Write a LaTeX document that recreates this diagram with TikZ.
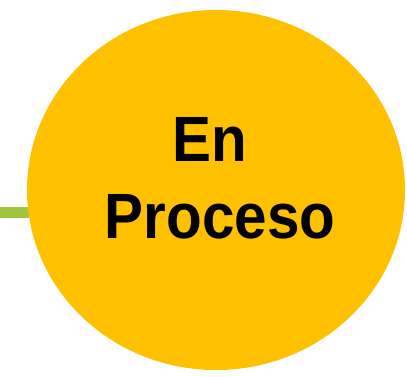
\documentclass[tikz,border=0pt]{standalone}
\usepackage{fontspec}
\setmainfont{Liberation Sans}
\usetikzlibrary{shapes.geometric}
\definecolor{procorange}{RGB}{255,192,0}
\definecolor{linkgreen}{RGB}{160,198,62}
\begin{document}
\begin{tikzpicture}[x=1pt,y=1pt,
  statebubble/.style={ellipse, fill=procorange, draw=none, minimum width=378pt, minimum height=360pt, inner sep=0pt},
  statelabel/.style={align=center, font=\fontsize{64}{77}\selectfont\bfseries, text=black, inner sep=0pt, xscale=0.913},
  link/.style={draw=linkgreen, line width=11pt}]
\useasboundingbox (0,0) rectangle (407,376);
\coordinate (linkstart) at (0,163.5);
\coordinate (linkend) at (216,163.5);
\draw[link] (linkstart) -- (linkend);
\node[statebubble] (bubble) at (216,186) {};
\node[statelabel] (label) at (220,197.5) {En\rule{23pt}{0pt}\\Proceso};
\end{tikzpicture}
\end{document}
